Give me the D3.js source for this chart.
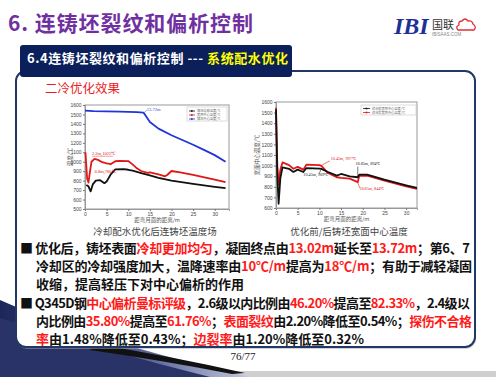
<!DOCTYPE html>
<html><head><meta charset="utf-8">
<script src="https://cdn.jsdelivr.net/npm/d3@7"></script>
<style>body{margin:0;background:#fff}svg{display:block}</style></head>
<body><svg id="s" width="496" height="377"></svg>
<script>
// ---------- data ----------
const leftYTicks=[500,600,700,800,900,1000,1100,1200,1300,1400,1500,1600];
const leftXTicks=[0,5,10,15,20,25,30];
const centerX=[0,2,5,8,10,12,13.5,14,15,17,20,22.5,25,27.5,30,32.5];
const centerY=[1540,1535,1532,1530,1527,1524,1520,1490,1420,1350,1280,1230,1180,1125,1070,1000];
const surfX=[0.1,0.3,0.5,0.8,1.1,1.5,2.2,3,4,5,6,7,8,10,11,12,13,14.5,15,17,18.5,19,20,22,25,30,32.5];
const surfY=[1100,960,820,780,880,1000,1030,1020,995,982,975,1005,1010,1007,972,930,902,881,888,866,846,860,902,888,860,811,783];
const cornerX=[0.3,0.8,1.3,1.8,2.5,3.5,4.5,5,6,7,9,10,11,13,15,17,20,25,30,32.5];
const cornerY=[755,740,686,760,800,805,773,790,870,920,922,915,905,880,855,830,800,765,735,720];
const leftLegend=["铸坯角部温度/℃","宽面中心温度/℃","铸坯中心温度/℃"];

const rightYTicks=[600,700,800,900,1000,1100,1200,1300,1400,1500,1600];
const rightXTicks=[0,5,10,15,20,25,30];
const beforeX=[0,0.3,0.6,1.0,1.5,3,4,5,6.3,7,10,10.45,12,14,15,17,18.85,19.2,21,25,30,32.5];
const beforeY=[1530,900,640,880,983,970,940,962,940,977,971,969,940,905,921,899,890,915,915,867,814,789];
const afterX=[0,0.3,0.6,1.0,1.5,3,4,5,6.3,7,10,10.45,12,14,15,17,18.85,19.2,21,25,30,32.5];
const afterY=[1545,1000,820,960,1030,1005,970,988,962,1009,1005,997,930,890,885,877,844,903,905,858,805,780];
const rightLegend=["优化前宽面中心温度/℃","优化后宽面中心温度/℃"];

const bulletLines=[
 [["■ ",0],["优化后，铸坯表面",0],["冷却更加均匀",1],["，凝固终点由",0],["13.02m",1],["延长至",0],["13.72m",1],["；第6、7",0]],
 [["冷却区的冷却强度加大，温降速率由",0],["10℃/m",1],["提高为",0],["18℃/m",1],["；有助于减轻凝固",0]],
 [["收缩，提高轻压下对中心偏析的作用",0]],
 [["■ ",0],["Q345D钢",0],["中心偏析曼标评级",1],["，2.6级以内比例由",0],["46.20%",1],["提高至",0],["82.33%",1],["，2.4级以",0]],
 [["内比例由",0],["35.80%",1],["提高至",0],["61.76%",1],["；",0],["表面裂纹",1],["由2.20%降低至0.54%；",0],["探伤不合格",1]],
 [["率",1],["由1.48%降低至0.43%；",0],["边裂率",1],["由1.20%降低至0.32%",0]]
];

// ---------- page ----------
const svg=d3.select("#s");
const CJK='"Noto Sans CJK SC","Noto Sans",sans-serif';
const defs=svg.append("defs");
const g1=defs.append("linearGradient").attr("id","sw").attr("x1",0).attr("y1",0).attr("x2",1).attr("y2",0);
g1.append("stop").attr("offset",0).attr("stop-color","#1d2658");
g1.append("stop").attr("offset",0.6).attr("stop-color","#5a669c");
g1.append("stop").attr("offset",1).attr("stop-color","#c4c8dc");

svg.append("rect").attr("x",0).attr("y",371).attr("width",496).attr("height",6).attr("fill","#cfcfcf");
svg.append("path").attr("d","M0,300 Q90,340 250,377 L0,377 Z").attr("fill","url(#sw)");
svg.append("path").attr("d","M0,318 Q110,352 210,377 L0,377 Z").attr("fill","#2a3368");
svg.append("path").attr("d","M95,344 Q170,356 245,373 L232,374 Q160,360 90,350 Z").attr("fill","#111");

svg.append("rect").attr("x",17).attr("y",73).attr("width",459).attr("height",276).attr("rx",10).attr("fill","#aaa").attr("opacity",0.5);
svg.append("rect").attr("x",16).attr("y",71).attr("width",459).attr("height",276).attr("rx",10)
  .attr("fill","#fff").attr("stroke","#1f3864").attr("stroke-width",2);

svg.append("text").attr("x",8).attr("y",31).attr("font-family",CJK).attr("font-weight","bold")
  .attr("font-size",21).attr("fill","#7030a0").attr("textLength",245).attr("lengthAdjust","spacing").text("6. 连铸坯裂纹和偏析控制");

svg.append("text").attr("x",394).attr("y",34).attr("font-family","Liberation Serif").attr("font-style","italic")
  .attr("font-weight","bold").attr("font-size",24).attr("fill","#1f2f98").text("IBI");
svg.append("text").attr("x",432).attr("y",29).attr("font-family",CJK).attr("font-size",11).attr("fill","#333").text("国联");
svg.append("path").attr("d","M458,30 L474,30 Q477,27 473,24 Q472,20 468,21 Q465,17 462,21 Q458,21 459,25 Q455,27 458,30 Z")
  .attr("fill","none").attr("stroke","#e03030").attr("stroke-width",1.3);
svg.append("text").attr("x",432).attr("y",36).attr("font-family","Liberation Sans").attr("font-size",4.5).attr("fill","#888").text("IBISAAS.COM");

svg.append("rect").attr("x",20).attr("y",45).attr("width",272).attr("height",32).attr("rx",3).attr("fill","#0b1f5b");
const ht=svg.append("text").attr("x",27).attr("y",63).attr("font-family",CJK).attr("font-weight","bold").attr("font-size",13)
  .attr("textLength",261).attr("lengthAdjust","spacing");
ht.append("tspan").attr("fill","#fff").text("6.4连铸坯裂纹和偏析控制 --- ");
ht.append("tspan").attr("fill","#ffff00").text("系统配水优化");

svg.append("text").attr("x",45).attr("y",93).attr("font-family",CJK).attr("font-size",12.5).attr("fill","#e81e1e").text("二冷优化效果");

function chart(o){
  const x=d3.scaleLinear().domain(o.xd).range(o.xr);
  const y=d3.scaleLinear().domain(o.yd).range(o.yr);
  const g=svg.append("g");
  g.append("rect").attr("x",o.xr[0]).attr("y",o.yr[1]).attr("width",o.xr[1]-o.xr[0]).attr("height",o.yr[0]-o.yr[1])
    .attr("fill","#fff").attr("stroke","#999").attr("stroke-width",1);
  const ax=g.append("g").attr("transform",`translate(0,${o.yr[0]})`)
    .call(d3.axisBottom(x).tickValues(o.xt).tickFormat(d3.format("d")).tickSize(2).tickPadding(1.5));
  const ay=g.append("g").attr("transform",`translate(${o.xr[0]},0)`)
    .call(d3.axisLeft(y).tickValues(o.yt).tickFormat(d3.format("d")).tickSize(2).tickPadding(1.5));
  [ax,ay].forEach(a=>{a.select(".domain").attr("stroke","#999");a.selectAll("line").attr("stroke","#777");
    a.selectAll("text").attr("font-size",5).attr("fill","#444").attr("font-family","Liberation Sans");});
  g.append("text").attr("x",(o.xr[0]+o.xr[1])/2).attr("y",o.yr[0]+13).attr("text-anchor","middle")
    .attr("font-family",CJK).attr("font-size",5.5).attr("fill","#555").text("距弯月面的距离/m");
  g.append("text").attr("transform",`translate(${o.ylx},${(o.yr[0]+o.yr[1])/2}) rotate(-90)`).attr("text-anchor","middle")
    .attr("font-family",CJK).attr("font-size",5.5).attr("fill","#555").text(o.ylab);
  const line=d3.line().x(d=>x(d[0])).y(d=>y(d[1]));
  o.series.forEach(s=>{
    const pts=s.x.map((v,i)=>[v,s.y[i]]);
    g.append("path").attr("d",line(pts)).attr("fill","none").attr("stroke",s.c).attr("stroke-width",1.8)
      .attr("stroke-linejoin","round");
  });
  return {x,y,g};
}

const L=chart({xd:[0,33.3],xr:[85,229],yd:[500,1600],yr:[209,105],xt:leftXTicks,yt:leftYTicks,ylx:72,ylab:"温度/℃",
  series:[{x:cornerX,y:cornerY,c:"#111"},{x:surfX,y:surfY,c:"#e01818"},{x:centerX,y:centerY,c:"#1f35d8"}]});
(function(){
  const lg=L.g.append("g");
  lg.append("rect").attr("x",187).attr("y",107).attr("width",40).attr("height",14).attr("fill","#fff").attr("stroke","#bbb").attr("stroke-width",0.5);
  const cols=["#111","#e01818","#1f35d8"];
  leftLegend.forEach((t,i)=>{
    const yy=111+i*4;
    lg.append("line").attr("x1",189).attr("x2",195).attr("y1",yy).attr("y2",yy).attr("stroke",cols[i]).attr("stroke-width",0.8);
    lg.append("rect").attr("x",191).attr("y",yy-0.8).attr("width",1.6).attr("height",1.6).attr("fill",cols[i]);
    lg.append("text").attr("x",197).attr("y",yy+1.2).attr("font-family",CJK).attr("font-size",3.2).attr("fill","#666").text(t);
  });
})();
L.g.append("text").attr("x",L.x(14.3)).attr("y",L.y(1540)).attr("font-family","Liberation Serif").attr("font-size",4.5).attr("fill","#3344cc").text("13.72m");
L.g.append("line").attr("x1",L.x(13.7)).attr("y1",L.y(1520)).attr("x2",L.x(14.3)).attr("y2",L.y(1545)).attr("stroke","#3344cc").attr("stroke-width",0.5);
L.g.append("text").attr("x",L.x(1.6)).attr("y",L.y(1068)).attr("font-family","Liberation Serif").attr("font-size",4.5).attr("fill","#e01818").text("2.2m,1025℃");
L.g.append("line").attr("x1",L.x(1.6)).attr("y1",L.y(1058)).attr("x2",L.x(6.5)).attr("y2",L.y(1058)).attr("stroke","#e01818").attr("stroke-width",0.4);
L.g.append("text").attr("x",L.x(2.2)).attr("y",L.y(880)).attr("font-family","Liberation Serif").attr("font-size",4.5).attr("fill","#e01818").text("0.8m,780℃");

const R=chart({xd:[0,32.5],xr:[276,417],yd:[600,1600],yr:[208,102],xt:rightXTicks,yt:rightYTicks,ylx:259,ylab:"宽面中心温度/℃",
  series:[{x:afterX,y:afterY,c:"#e01818"},{x:beforeX,y:beforeY,c:"#111"}]});
(function(){
  const lg=R.g.append("g");
  lg.append("rect").attr("x",361).attr("y",105).attr("width",55).attr("height",10).attr("fill","#fff").attr("stroke","#bbb").attr("stroke-width",0.5);
  const cols=["#111","#e01818"];
  rightLegend.forEach((t,i)=>{
    const yy=108.5+i*4;
    lg.append("line").attr("x1",363).attr("x2",370).attr("y1",yy).attr("y2",yy).attr("stroke",cols[i]).attr("stroke-width",0.8);
    lg.append("rect").attr("x",365.7).attr("y",yy-0.8).attr("width",1.6).attr("height",1.6).attr("fill",cols[i]);
    lg.append("text").attr("x",372).attr("y",yy+1.2).attr("font-family",CJK).attr("font-size",3.2).attr("fill","#666").text(t);
  });
})();
function ann(t,xv,yv,c){R.g.append("text").attr("x",R.x(xv)).attr("y",R.y(yv)).attr("font-family","Liberation Serif").attr("font-size",4.2).attr("fill",c).text(t);}
ann("10.45m, 997℃",12.6,1050,"#e01818");
R.g.append("line").attr("x1",R.x(10.6)).attr("y1",R.y(1005)).attr("x2",R.x(12.4)).attr("y2",R.y(1045)).attr("stroke","#e01818").attr("stroke-width",0.6);
ann("10.45m, 969℃",6.3,905,"#222");
R.g.append("line").attr("x1",R.x(10.3)).attr("y1",R.y(960)).attr("x2",R.x(10.0)).attr("y2",R.y(925)).attr("stroke","#222").attr("stroke-width",0.6);
ann("18.85m, 894℃",18.3,1005,"#222");
R.g.append("line").attr("x1",R.x(18.85)).attr("y1",R.y(900)).attr("x2",R.x(18.85)).attr("y2",R.y(990)).attr("stroke","#222").attr("stroke-width",0.6);
ann("18.85m, 844℃",19.2,770,"#e01818");
R.g.append("line").attr("x1",R.x(18.85)).attr("y1",R.y(838)).attr("x2",R.x(19.3)).attr("y2",R.y(790)).attr("stroke","#e01818").attr("stroke-width",0.6);

svg.append("text").attr("x",155).attr("y",235).attr("text-anchor","middle").attr("font-family",CJK).attr("font-size",9.5).attr("fill","#444").text("冷却配水优化后连铸坯温度场");
svg.append("text").attr("x",349).attr("y",235).attr("text-anchor","middle").attr("font-family",CJK).attr("font-size",9.5).attr("fill","#444").text("优化前/后铸坯宽面中心温度");

const lineY=[253,271,289,308,326,344];
const lineX=[20,36,36,20,36,36];
const fitW=[450,436,null,450,436,null];
bulletLines.forEach((segs,i)=>{
  const t=svg.append("text").attr("x",lineX[i]).attr("y",lineY[i]).attr("font-family",CJK).attr("font-weight","bold").attr("font-size",13);
  if(fitW[i]) t.attr("textLength",fitW[i]).attr("lengthAdjust","spacing");
  segs.forEach(s=>t.append("tspan").attr("fill",s[1]?"#ff1a1a":"#111").text(s[0]));
});

svg.append("text").attr("x",243).attr("y",360).attr("text-anchor","middle").attr("font-family","Liberation Serif").attr("font-size",11).attr("fill","#222").text("76/77");
</script></body></html>
